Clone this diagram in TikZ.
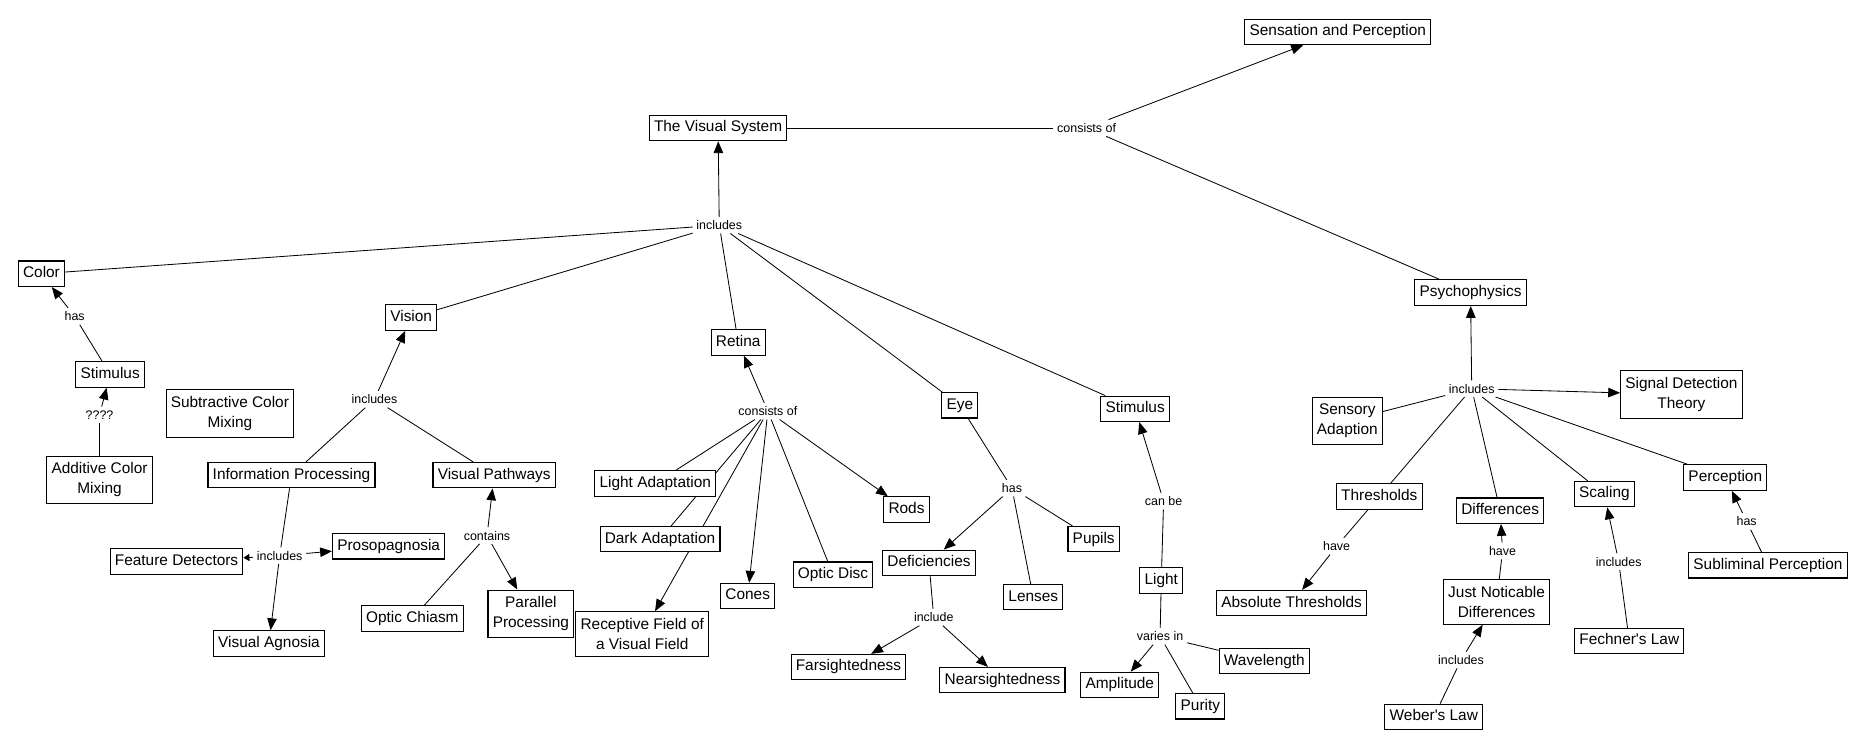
\documentclass[tikz,border=0pt]{standalone}
\usepackage{fontspec}
\setmainfont{Liberation Sans}
\newfontfamily\aposfont{Liberation Sans}
\newcommand{\ap}{{\aposfont'}}
\usetikzlibrary{arrows.meta,backgrounds}
\begin{document}
\begin{tikzpicture}[x=1pt,y=-1pt,
 box/.style={draw,line width=0.9pt,fill=white,font=\fontsize{13}{17}\selectfont,inner xsep=4pt,inner ysep=4.5pt,text height=9.5pt,text depth=3pt},
 boxb/.style={draw,line width=0.9pt,fill=white,font=\fontsize{13}{17}\selectfont,inner xsep=4pt,inner ysep=5.5pt,align=center},
 lab/.style={font=\fontsize{10.5}{12}\selectfont,inner sep=3pt},
 con/.style={line width=0.7pt},
 arr/.style={con,-{Triangle[length=10pt,width=8pt]}}]
\useasboundingbox (0,0) rectangle (1568,632);
% concepts
\node[box] (sp) at (1129,27) {Sensation and Perception};
\node[box] (tvs) at (606,108) {The Visual System};
\node[box] (color) at (35,231) {Color};
\node[box] (vision) at (347,268) {Vision};
\node[box] (stimA) at (93,316) {Stimulus};
\node[boxb] (subtr) at (194,349) {Subtractive Color\\Mixing};
\node[boxb] (addit) at (84,405) {Additive Color\\Mixing};
\node[box] (infop) at (246,401) {Information Processing};
\node[box] (vpath) at (417,401) {Visual Pathways};
\node[box] (featd) at (149,474) {Feature Detectors};
\node[box] (prosop) at (328,461) {Prosopagnosia};
\node[box] (vagn) at (227,543) {Visual Agnosia};
\node[box] (ochi) at (348,522) {Optic Chiasm};
\node[boxb] (parp) at (448,518) {Parallel\\Processing};
\node[box] (retina) at (623,289) {Retina};
\node[box] (lada) at (553,408) {Light Adaptation};
\node[box] (dada) at (557,455) {Dark Adaptation};
\node[boxb] (recf) at (542,535) {Receptive Field of\\a Visual Field};
\node[box] (cones) at (631,503) {Cones};
\node[box] (odisc) at (703,485) {Optic Disc};
\node[box] (rods) at (765,430) {Rods};
\node[box] (eye) at (810,342) {Eye};
\node[box] (stimB) at (958,345) {Stimulus};
\node[box] (defic) at (784,475) {Deficiencies};
\node[box] (pupils) at (923,455) {Pupils};
\node[box] (lenses) at (872,504) {Lenses};
\node[box] (fars) at (716,563) {Farsightedness};
\node[box] (nears) at (846,574) {Nearsightedness};
\node[box] (light) at (980,490) {Light};
\node[box] (wavel) at (1067,558) {Wavelength};
\node[box] (ampl) at (945,578) {Amplitude};
\node[box] (purity) at (1013,596) {Purity};
\node[box] (psych) at (1241,247) {Psychophysics};
\node[boxb] (sdt) at (1419,333) {Signal Detection\\Theory};
\node[boxb] (sensad) at (1137,355) {Sensory\\Adaption};
\node[box] (thresh) at (1164,419) {Thresholds};
\node[box] (diffs) at (1266,431) {Differences};
\node[box] (scaling) at (1354,417) {Scaling};
\node[box] (perc) at (1456,403) {Perception};
\node[box] (absth) at (1090,509) {Absolute Thresholds};
\node[boxb] (jnd) at (1263,508) {Just Noticable\\Differences};
\node[box] (fechner) at (1375,541) {Fechner\ap s Law};
\node[box] (sublim) at (1492,477) {Subliminal Perception};
\node[box] (weber) at (1210,605) {Weber\ap s Law};
% linking phrases
\node[lab] (l1) at (917,108) {consists of};
\node[lab] (l2) at (607,190) {includes};
\node[lab] (l3) at (63,267) {has};
\node[lab] (l4) at (84,350) {????};
\node[lab] (l5) at (316,337) {includes};
\node[lab] (l6) at (236,469) {includes};
\node[lab] (l7) at (411,452) {contains};
\node[lab] (l8) at (648,347) {consists of};
\node[lab] (l9) at (854,412) {has};
\node[lab] (l10) at (788,521) {include};
\node[lab] (l11) at (982,423) {can be};
\node[lab] (l12) at (979,537) {varies in};
\node[lab] (l13) at (1242,328) {includes};
\node[lab] (l14) at (1128,461) {have};
\node[lab] (l15) at (1268,465) {have};
\node[lab] (l16) at (1366,474) {includes};
\node[lab] (l17) at (1474,440) {has};
\node[lab] (l18) at (1233,557) {includes};
\begin{pgfonlayer}{background}
\draw[con] (tvs) -- (l1);
\draw[arr] (l1) -- (sp);
\draw[con] (l1) -- (psych);
\draw[arr] (l2) -- (tvs);
\draw[con] (l2) -- (color);
\draw[con] (l2) -- (vision);
\draw[con] (l2) -- (retina);
\draw[con] (l2) -- (eye);
\draw[con] (l2) -- (stimB);
\draw[con] (stimA) -- (l3);
\draw[arr] (l3) -- (color);
\draw[con] (addit) -- (l4);
\draw[arr] (l4) -- (stimA);
\draw[arr] (l5) -- (vision);
\draw[con] (l5) -- (infop);
\draw[con] (l5) -- (vpath);
\draw[con] (infop) -- (l6);
\draw[con,-{Triangle[length=5pt,width=6pt]}] (l6) -- (featd);
\draw[arr] (l6) -- (prosop);
\draw[arr] (l6) -- (vagn);
\draw[arr] (l7) -- (vpath);
\draw[con] (l7) -- (ochi);
\draw[arr] (l7) -- (parp);
\draw[arr] (l8) -- (retina);
\draw[con] (l8) -- (lada);
\draw[con] (l8) -- (dada);
\draw[arr] (l8) -- (recf);
\draw[arr] (l8) -- (cones);
\draw[con] (l8) -- (odisc);
\draw[arr] (l8) -- (rods);
\draw[con] (eye) -- (l9);
\draw[arr] (l9) -- (defic);
\draw[con] (l9) -- (lenses);
\draw[con] (l9) -- (pupils);
\draw[con] (defic) -- (l10);
\draw[arr] (l10) -- (fars);
\draw[arr] (l10) -- (nears);
\draw[con] (light) -- (l11);
\draw[arr] (l11) -- (stimB);
\draw[con] (light) -- (l12);
\draw[arr] (l12) -- (ampl);
\draw[con] (l12) -- (purity);
\draw[con] (l12) -- (wavel);
\draw[arr] (l13) -- (psych);
\draw[arr] (l13) -- (sdt);
\draw[con] (l13) -- (sensad);
\draw[con] (l13) -- (thresh);
\draw[con] (l13) -- (diffs);
\draw[con] (l13) -- (scaling);
\draw[con] (l13) -- (perc);
\draw[con] (thresh) -- (l14);
\draw[arr] (l14) -- (absth);
\draw[con] (jnd) -- (l15);
\draw[arr] (l15) -- (diffs);
\draw[con] (fechner) -- (l16);
\draw[arr] (l16) -- (scaling);
\draw[con] (sublim) -- (l17);
\draw[arr] (l17) -- (perc);
\draw[con] (weber) -- (l18);
\draw[arr] (l18) -- (jnd);
\end{pgfonlayer}
\end{tikzpicture}
\end{document}
